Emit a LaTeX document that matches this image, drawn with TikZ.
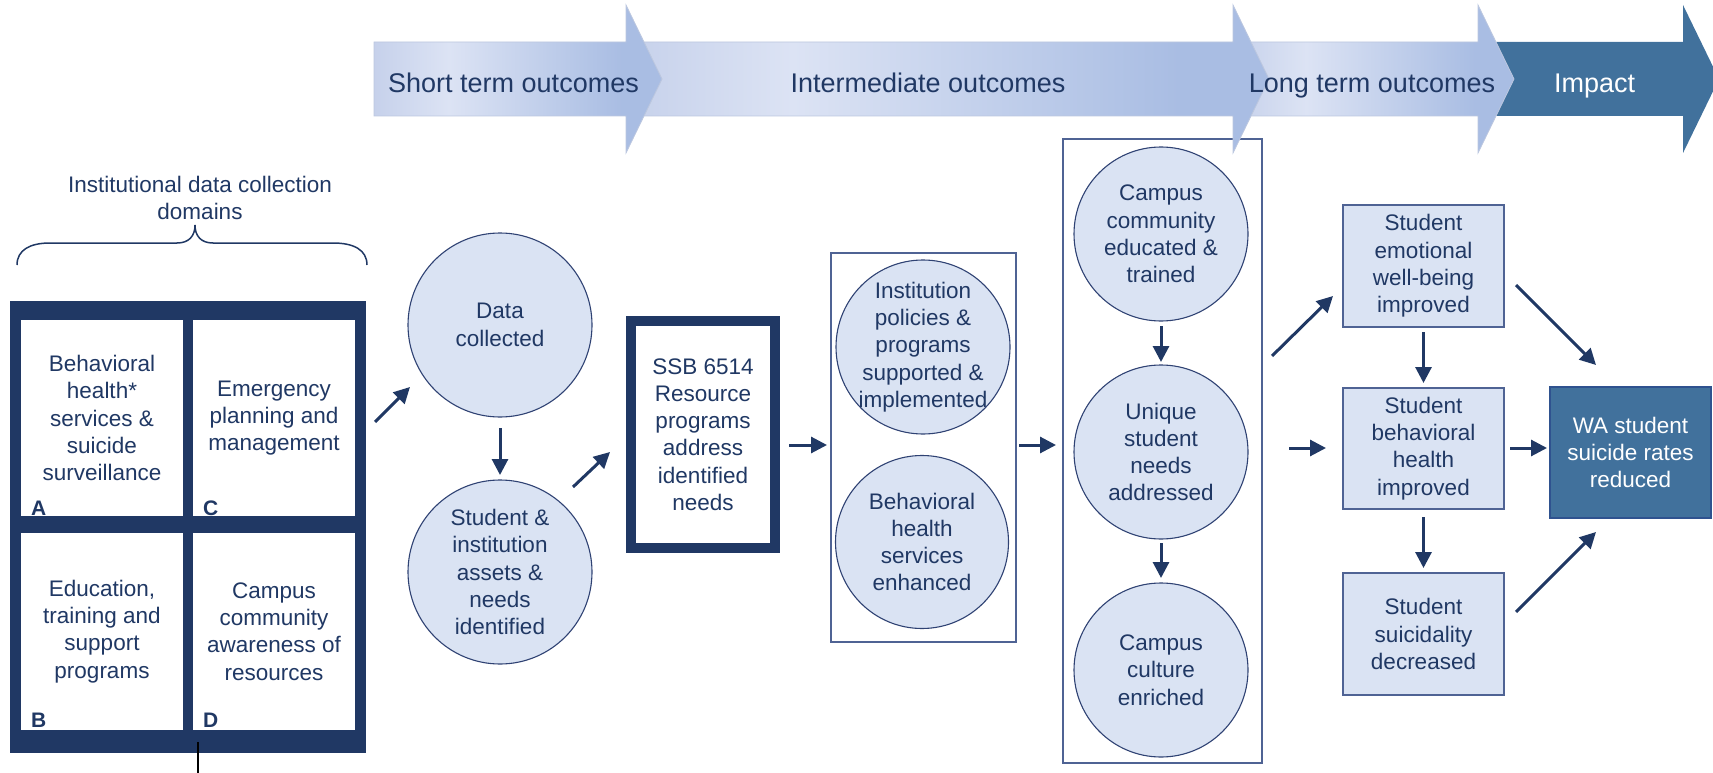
\documentclass[tikz,border=0pt]{standalone}
\usepackage{fontspec}
\setmainfont{Liberation Sans}
\usetikzlibrary{arrows.meta,calc}

\definecolor{navy}{HTML}{203864}
\definecolor{paleblue}{HTML}{DAE3F3}
\definecolor{ringline}{HTML}{2F4273}
\definecolor{boxline}{HTML}{4F6394}
\definecolor{steel}{HTML}{41719C}
\definecolor{steelline}{HTML}{2F528F}
\definecolor{bandA}{HTML}{C6D1EB}
\definecolor{bandB}{HTML}{DCE3F4}
\definecolor{bandC}{HTML}{A9BDE3}
\definecolor{bandedge}{HTML}{BCC7DF}

% light band used by the three outcome chevrons
\pgfdeclarehorizontalshading{band}{100bp}{color(0bp)=(bandA); color(25bp)=(bandA); color(38bp)=(bandB); color(68bp)=(bandC); color(100bp)=(bandC)}

\newcommand\txtsize{\fontsize{22.5}{27.3}\selectfont}
\newcommand\tagsize{\fontsize{21}{21}\selectfont}
\newcommand\bandsize{\fontsize{27}{32}\selectfont}

\begin{document}
\begin{tikzpicture}[x=1pt,y=-1pt,
  every node/.style={inner sep=0pt, outer sep=0pt},
  txt/.style={text=navy, font=\txtsize, align=center},
  cell/.style={txt, fill=white, minimum width=162pt, minimum height=196pt},
  tag/.style={text=navy, font=\tagsize\bfseries},
  ring/.style={circle, draw=ringline, line width=1.1pt, fill=paleblue},
  group/.style={draw=boxline, line width=1.2pt},
  outcome/.style={txt, draw=boxline, line width=1.5pt, fill=paleblue, minimum width=161pt},
  arr/.style={draw=navy, line width=3pt, -{Triangle[length=16pt,width=16pt]}},
  bandtxt/.style={font=\bandsize, text=navy},
  chevron/.style={shading=band, draw=bandedge, line width=0.8pt},
]
\useasboundingbox (0,0) rectangle (1713,773);

% ---- data collection domains ----
\node[txt] (title) at (200,198) {Institutional data collection\\domains};
\draw[navy, line width=1.5pt] (17,265) .. controls (17,250) and (30,243) .. (50,243) -- (177,243)
  .. controls (189,243) and (195,236) .. (195,225) .. controls (195,236) and (201,243) .. (213,243)
  -- (333,243) .. controls (354,243) and (367,250) .. (367,265);

\node[fill=navy, minimum width=356pt, minimum height=452pt] (grid) at (188,527) {};
\node[cell] (cA) at (102,418) {Behavioral\\health*\\services \&\\suicide\\surveillance};
\node[cell] (cC) at (274,418) {Emergency\\planning and\\management};
\node[cell, minimum height=197pt] (cB) at (102,631.5) {Education,\\training and\\support\\programs};
\node[cell, minimum height=197pt] (cD) at (274,631.5) {Campus\\community\\awareness of\\resources};
\node[tag, anchor=base west] (lA) at ($(cA.south west)+(10,-1)$) {A};
\node[tag, anchor=base west] (lC) at ($(cC.south west)+(10,-1)$) {C};
\node[tag, anchor=base west] (lB) at ($(cB.south west)+(10,-3)$) {B};
\node[tag, anchor=base west] (lD) at ($(cD.south west)+(10,-3)$) {D};
\draw[black, line width=1.3pt] ($(grid.south)+(10,-11)$) -- ($(grid.south)+(10,20)$);

% ---- short term ----
\node[ring, minimum size=184pt] (dc) at (500,325) {};
\node[txt] (dct) at (dc) {Data\\collected};
\node[ring, minimum size=184pt] (st) at (500,572) {};
\node[txt] (stt) at (st) {Student \&\\institution\\assets \&\\needs\\identified};
\node[txt, draw=navy, line width=10pt, fill=white, minimum width=144pt, minimum height=227pt] (ssb) at (703,434.5)
  {SSB 6514\\Resource\\programs\\address\\identified\\needs};

% ---- intermediate ----
\node[group, minimum width=185pt, minimum height=389pt] (b1) at (923.5,447.5) {};
\node[ring, minimum size=174pt] (ip) at (923,347) {};
\node[txt] (ipt) at (ip) {Institution\\policies \&\\programs\\supported \&\\implemented};
\node[ring, minimum size=173pt] (bh) at (922,542) {};
\node[txt] (bht) at (bh) {Behavioral\\health\\services\\enhanced};

\node[group, minimum width=199pt, minimum height=624pt] (b2) at (1162.5,451) {};
\node[ring, minimum size=174pt] (cc) at (1161,234) {};
\node[txt] (cct) at (cc) {Campus\\community\\educated \&\\trained};
\node[ring, minimum size=174pt] (us) at (1161,452) {};
\node[txt] (ust) at (us) {Unique\\student\\needs\\addressed};
\node[ring, minimum size=174pt] (cu) at (1161,670) {};
\node[txt] (cut) at (cu) {Campus\\culture\\enriched};

% ---- long term and impact ----
\node[outcome, minimum height=122pt] (E) at (1423.5,266) {Student\\emotional\\well-being\\improved};
\node[outcome, minimum height=121pt] (F) at (1423.5,448.5) {Student\\behavioral\\health\\improved};
\node[outcome, minimum height=122pt] (G) at (1423.5,634) {Student\\suicidality\\decreased};
\node[txt, text=white, fill=steel, draw=steelline, line width=1.5pt, minimum width=161pt, minimum height=131pt] (WA)
  at (1630.5,452.5) {WA student\\suicide rates\\reduced};

% ---- connectors ----
\draw[arr] ($(grid.east)+(9,-105)$) -- ($(dc.center)+(-90,62)$);
\draw[arr, shorten <=11pt, shorten >=5pt] (dc) -- (st);
\draw[arr] ($(st.center)+(73,-85)$) -- ($(ssb.west)+(-21,17.5)$);
\draw[arr] ($(ssb.east)+(14,10.5)$) -- ($(b1.west)+(-4,-2.5)$);
\draw[arr] ($(b1.east)+(3,-2.5)$) -- ($(b2.west)+(-7,-6)$);
\draw[arr, shorten <=5pt, shorten >=3pt] (cc) -- (us);
\draw[arr, shorten <=4pt, shorten >=5pt] (us) -- (cu);
\draw[arr] ($(b2.east)+(10,-95)$) -- ($(E.west)+(-10,30)$);
\draw[arr] ($(b2.east)+(27,-3)$) -- ($(F.west)+(-17,-0.5)$);
\draw[arr, shorten <=5pt, shorten >=5pt] (E) -- (F);
\draw[arr, shorten <=8pt, shorten >=5pt] (F) -- (G);
\draw[arr] ($(E.east)+(12,19)$) -- ($(WA.north west)+(46,-22)$);
\draw[arr] ($(F.east)+(6,-0.5)$) -- ($(WA.west)+(-3,-4.5)$);
\draw[arr] ($(G.east)+(12,-22)$) -- ($(WA.south west)+(46,14)$);

% ---- outcome timeline chevrons ----
\path[fill=steel] (1478,42) -- (1683,42) -- (1683,5) -- (1719,79) -- (1683,153) -- (1683,116) -- (1478,116) -- cycle;
\path[chevron] (1233,42) -- (1478,42) -- (1478,5) -- (1514,79) -- (1478,153) -- (1478,116) -- (1233,116) -- cycle;
\path[chevron] (626,42) -- (1233,42) -- (1233,5) -- (1269,79) -- (1233,153) -- (1233,116) -- (626,116) -- cycle;
\path[chevron] (374,42) -- (626,42) -- (626,5) -- (662,79) -- (626,153) -- (626,116) -- (374,116) -- cycle;
\node[bandtxt, anchor=base] (t1) at (513.5,93) {Short term outcomes};
\node[bandtxt, anchor=base] (t2) at (928,93) {Intermediate outcomes};
\node[bandtxt, anchor=base] (t3) at (1372,93) {Long term outcomes};
\node[bandtxt, anchor=base, text=white] (t4) at (1594.5,93) {Impact};
\end{tikzpicture}
\end{document}
